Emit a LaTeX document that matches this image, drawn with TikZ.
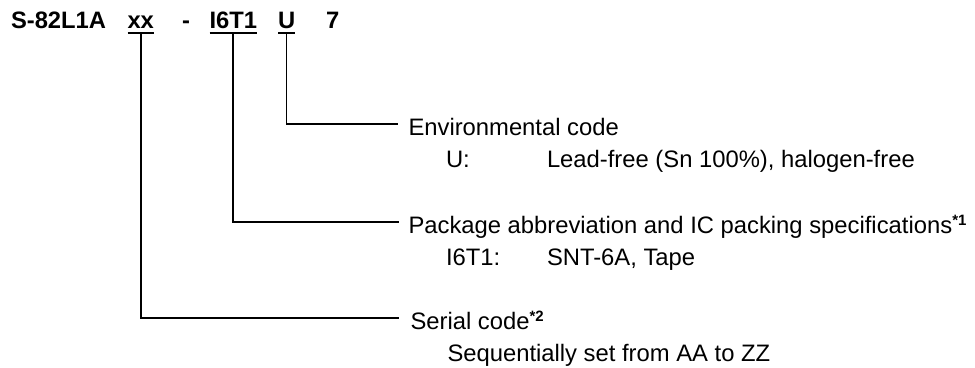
\documentclass[tikz,border=0pt]{standalone}
\usepackage{fontspec}
\setmainfont{Liberation Sans}
\newcommand{\fnmark}[1]{\raisebox{7.5pt}{\fontsize{15}{15}\selectfont\bfseries #1}}
\begin{document}
\begin{tikzpicture}[x=1pt,y=-1pt,
  titletext/.style={anchor=base west,inner sep=0pt,outer sep=0pt,font=\fontsize{23.75}{28}\selectfont\bfseries},
  labeltext/.style={anchor=base west,inner sep=0pt,outer sep=0pt,font=\fontsize{23.8}{28}\selectfont},
  leader/.style={line width=1.8pt,black},
  uline/.style={line width=2pt,black}]
\useasboundingbox (0,0) rectangle (975,367);
% title parts
\node[titletext] (base) at (11,28) {S-82L1A};
\node[titletext] (xx) at (127.5,28) {xx};
\node[titletext] (dash) at (182,28) {-};
\node[titletext] (pkg) at (209.5,28) {I6T1};
\node[titletext] (env) at (278,28) {U};
\node[titletext] (seven) at (326,28) {7};
% underlines
\foreach \n in {xx,pkg,env}{
  \draw[uline] ([yshift=-5pt]\n.base west) -- ([yshift=-5pt]\n.base east);
  \coordinate (\n u) at ([yshift=-5pt]\n.base);
}
% labels
\node[labeltext] (envlab) at (408.5,135) {Environmental code};
\node[labeltext] (envkey) at (446,167) {U:};
\node[labeltext] (envval) at (547,167) {Lead-free (Sn 100\%), halogen-free};
\node[labeltext] (pkglab) at (408.5,233) {Package abbreviation and IC packing specifications\fnmark{*1}};
\node[labeltext] (pkgkey) at (446,265) {I6T1:};
\node[labeltext] (pkgval) at (547,265) {SNT-6A, Tape};
\node[labeltext] (serlab) at (410.5,329) {Serial code\fnmark{*2}};
\node[labeltext] (serval) at (447.5,361) {Sequentially set from AA to ZZ};
% leader ends
\coordinate (envend) at (398,124);
\coordinate (pkgend) at (399,222);
\coordinate (serend) at (399,318);
% leaders
\draw[leader] (envu) |- (envend);
\draw[leader] (pkgu) |- (pkgend);
\draw[leader] (xxu) |- (serend);
\end{tikzpicture}
\end{document}
